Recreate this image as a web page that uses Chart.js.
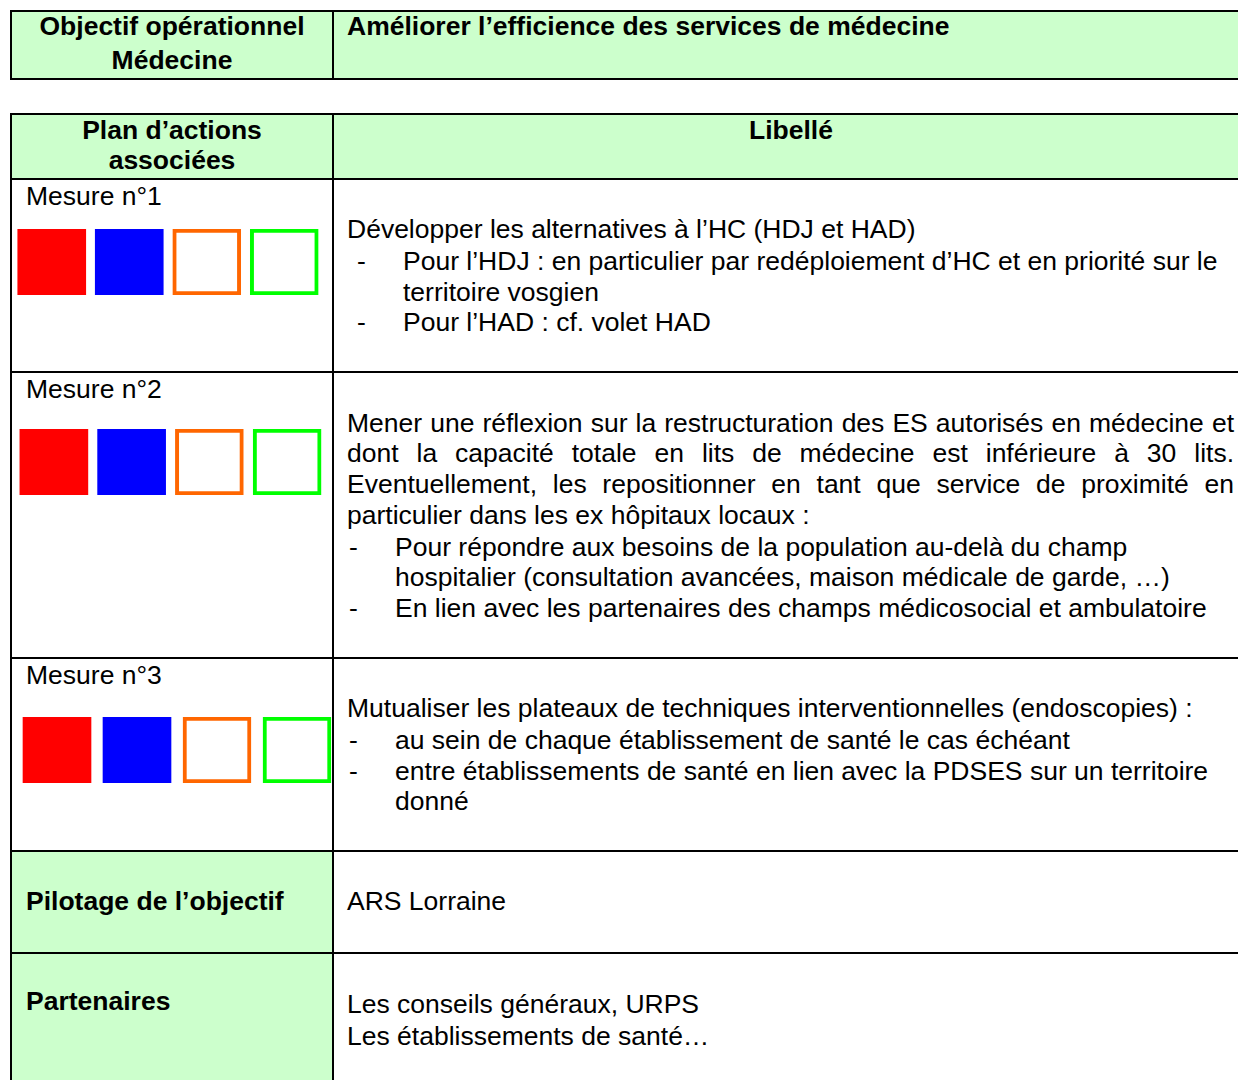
<!DOCTYPE html>
<html>
<head>
<meta charset="utf-8">
<script src="https://cdn.jsdelivr.net/npm/chart.js"></script>
<style>
  html, body { margin: 0; padding: 0; background: #fff; }
  body { width: 1238px; height: 1080px; position: relative; overflow: hidden;
         font-family: "Liberation Sans", Arial, sans-serif; font-size: 26.5px; color: #000; }
  .cell { position: absolute; }
  .green { background: #CCFFCC; }
  .hl { position: absolute; height: 2px; background: #000; }
  .vl { position: absolute; width: 2px; background: #000; }
  .t { position: absolute; white-space: nowrap; line-height: 31px; }
  .b { font-weight: bold; }
  .c { text-align: center; }
  .j { text-align: justify; text-align-last: justify; }
  canvas { position: absolute; }
</style>
</head>
<body>
<div id="page"></div>
<script>
// cases de couleur dans chaque mesure
const mesures = ['Mesure n°1', 'Mesure n°2', 'Mesure n°3'];
const carres = ['rouge', 'bleu', 'orange', 'vert'];
const valeurs = [1, 1, 1, 1];
const fonds = ['#FF0000', '#0000FF', '#FFFFFF', '#FFFFFF'];
const bords = ['#FF0000', '#0000FF', '#FF6600', '#00FF00'];
const epaisseurs = [0, 0, 4, 4];

const page = document.getElementById('page');

function bloc(cls, x, y, w, h) {
  const d = document.createElement('div');
  d.className = cls;
  d.style.left = x + 'px';
  d.style.top = y + 'px';
  if (w !== null) d.style.width = w + 'px';
  if (h !== null) d.style.height = h + 'px';
  page.appendChild(d);
  return d;
}

// texte positionné sur sa ligne de base
function texte(txt, x, base, cls, w) {
  const d = bloc('t ' + (cls || ''), x, base - 25, w || null, null);
  d.textContent = txt;
  return d;
}

// fonds verts
bloc('cell green', 12, 12, 1238, 66);
bloc('cell green', 12, 115, 1238, 63);
bloc('cell green', 12, 852, 320, 100);
bloc('cell green', 12, 953, 320, 140);

// tableau 1
bloc('hl', 10, 10, 1240, 2);
bloc('hl', 10, 78, 1240, 2);
bloc('vl', 10, 10, null, 70);
bloc('vl', 332, 10, null, 70);

// tableau 2
[113, 178, 371, 657, 850, 952].forEach(y => bloc('hl', 10, y, 1240, 2));
bloc('vl', 10, 113, null, 980);
bloc('vl', 332, 113, null, 980);

texte('Objectif opérationnel', 12, 36, 'b c', 320);
texte('Médecine', 12, 70, 'b c', 320);
texte('Améliorer l’efficience des services de médecine', 347, 36, 'b');

texte('Plan d’actions', 12, 140, 'b c', 320);
texte('associées', 12, 170, 'b c', 320);
texte('Libellé', 334, 140, 'b c', 914);

// mesure 1
texte(mesures[0], 26, 206);
texte('Développer les alternatives à l’HC (HDJ et HAD)', 347, 239);
texte('-', 357, 271);
texte('Pour l’HDJ : en particulier par redéploiement d’HC et en priorité sur le', 403, 271);
texte('territoire vosgien', 403, 302);
texte('-', 357, 332);
texte('Pour l’HAD : cf. volet HAD', 403, 332);

// mesure 2
texte(mesures[1], 26, 399);
texte('Mener une réflexion sur la restructuration des ES autorisés en médecine et', 347, 433, 'j', 887);
texte('dont la capacité totale en lits de médecine est inférieure à 30 lits.', 347, 463, 'j', 887);
texte('Eventuellement, les repositionner en tant que service de proximité en', 347, 494, 'j', 887);
texte('particulier dans les ex hôpitaux locaux :', 347, 525);
texte('-', 349, 557);
texte('Pour répondre aux besoins de la population au-delà du champ', 395, 557);
texte('hospitalier (consultation avancées, maison médicale de garde, …)', 395, 587);
texte('-', 349, 618);
texte('En lien avec les partenaires des champs médicosocial et ambulatoire', 395, 618);

// mesure 3
texte(mesures[2], 26, 685);
texte('Mutualiser les plateaux de techniques interventionnelles (endoscopies) :', 347, 718);
texte('-', 349, 750);
texte('au sein de chaque établissement de santé le cas échéant', 395, 750);
texte('-', 349, 781);
texte('entre établissements de santé en lien avec la PDSES sur un territoire', 395, 781);
texte('donné', 395, 811);

// pilotage / partenaires
texte('Pilotage de l’objectif', 26, 911, 'b');
texte('ARS Lorraine', 347, 911);
texte('Partenaires', 26, 1011, 'b');
texte('Les conseils généraux, URPS', 347, 1014);
texte('Les établissements de santé…', 347, 1046);

// un petit graphique à barres par mesure
const emplacements = [
  { x: 13, y: 229, w: 310, h: 66 },
  { x: 15, y: 429, w: 311, h: 66 },
  { x: 17, y: 717, w: 320, h: 66 }
];

emplacements.forEach((p) => {
  const cv = document.createElement('canvas');
  cv.width = p.w;
  cv.height = p.h;
  cv.style.left = p.x + 'px';
  cv.style.top = p.y + 'px';
  page.appendChild(cv);
  new Chart(cv.getContext('2d'), {
    type: 'bar',
    data: {
      labels: carres,
      datasets: [{
        data: valeurs,
        backgroundColor: fonds,
        borderColor: bords,
        borderWidth: epaisseurs,
        borderSkipped: false,
        barThickness: 68
      }]
    },
    options: {
      responsive: false,
      animation: false,
      layout: { padding: 0 },
      plugins: { legend: { display: false }, tooltip: { enabled: false } },
      scales: {
        x: { display: false },
        y: { display: false, min: 0, max: 1 }
      }
    }
  });
});
</script>
</body>
</html>
